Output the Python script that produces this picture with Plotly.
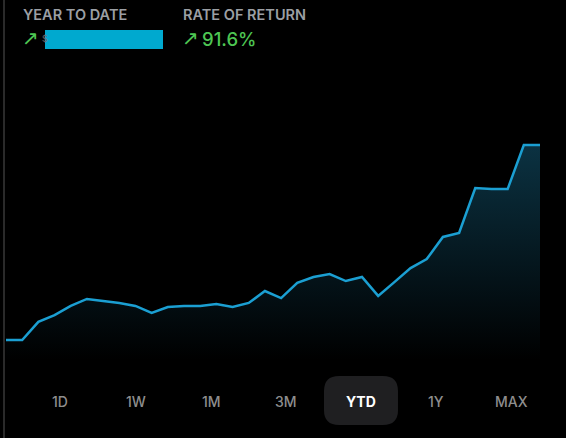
import plotly.graph_objects as go

# Data (index value)
values = [100.0, 100.0, 108.5, 111.7, 116.0, 119.3, 118.3, 117.4, 116.0, 112.7,
          115.5, 116.0, 116.0, 116.9, 115.5, 117.4, 123.0, 119.7, 126.8, 129.6,
          131.0, 127.7, 129.6, 120.7, 127.2, 133.8, 138.0, 148.4, 150.3, 171.4,
          170.9, 170.9, 191.6, 191.6]
periods = ["1D", "1W", "1M", "3M", "YTD", "1Y", "MAX"]
selected_period = "YTD"
rate_of_return = "91.6%"

W, H = 566, 438
n = len(values)
xs = list(range(n))

# plot area mapping
x0_px, x1_px = 6, 540
step = (x1_px - x0_px) / (n - 1)
xmin = -x0_px / step
xmax = (n - 1) + (W - x1_px) / step

y_bottom_px, y_top_px = 360, 60
plotH = y_bottom_px - y_top_px
per_px = 91.6 / 195.0
ymin = 100 - (y_bottom_px - 340) * per_px
ymax = 100 + (340 - y_top_px) * per_px

fig = go.Figure()
fig.add_trace(go.Scatter(
    x=xs, y=values, mode="lines",
    line=dict(color="#1b9fd2", width=2.5),
    fill="tozeroy",
    fillgradient=dict(type="vertical", start=ymin, stop=max(values),
                      colorscale=[[0, "rgba(0,0,0,1)"], [1, "rgba(11,50,66,1)"]]),
    hoverinfo="skip", showlegend=False,
))

def px(xp):
    return xp / W

def py(yp):
    return (y_bottom_px - yp) / plotH

shapes = [
    dict(type="line", xref="paper", yref="paper", x0=px(4), x1=px(4), y0=py(H), y1=py(0),
         line=dict(color="#555555", width=1)),
    dict(type="rect", xref="paper", yref="paper", x0=px(45), x1=px(163), y0=py(49), y1=py(30),
         fillcolor="#00a9cf", line=dict(width=0), layer="above"),
]
# rounded box behind selected period
bx0, bx1, by0, by1, r = 324, 398, 376, 425, 15
path = (f"M {bx0+r},{by0} L {bx1-r},{by0} Q {bx1},{by0} {bx1},{by0+r} "
        f"L {bx1},{by1-r} Q {bx1},{by1} {bx1-r},{by1} L {bx0+r},{by1} "
        f"Q {bx0},{by1} {bx0},{by1-r} L {bx0},{by0+r} Q {bx0},{by0} {bx0+r},{by0} Z")

def conv_path(p):
    out = []
    for tok in p.split(" "):
        if "," in tok:
            a, b = tok.split(",")
            out.append(f"{px(float(a)):.5f},{py(float(b)):.5f}")
        else:
            out.append(tok)
    return " ".join(out)

shapes.append(dict(type="path", xref="paper", yref="paper", path=conv_path(path),
                   fillcolor="#1f1f21", line=dict(width=0), layer="below"))

annotations = []
label_font = dict(family="Inter, Roboto, sans-serif", size=14.5, color="#9b9fa4", weight=600)
annotations.append(dict(text="YEAR TO DATE", x=px(21), y=py(14), xref="paper", yref="paper",
                        xanchor="left", yanchor="middle", showarrow=False, font=label_font))
annotations.append(dict(text="RATE OF RETURN", x=px(181), y=py(14), xref="paper", yref="paper",
                        xanchor="left", yanchor="middle", showarrow=False, font=label_font))
green = "#4ec653"
arrow_font = dict(family="Noto Sans, DejaVu Sans, sans-serif", size=20, color=green)
annotations.append(dict(text="↗", x=px(20), y=py(37), xref="paper", yref="paper",
                        xanchor="left", yanchor="middle", showarrow=False, font=arrow_font))
annotations.append(dict(text="$", x=px(40), y=py(39), xref="paper", yref="paper",
                        xanchor="left", yanchor="middle", showarrow=False,
                        font=dict(family="Inter, sans-serif", size=9, color="#6a6a6a")))
annotations.append(dict(text="↗", x=px(180), y=py(37), xref="paper", yref="paper",
                        xanchor="left", yanchor="middle", showarrow=False, font=arrow_font))
annotations.append(dict(text=rate_of_return, x=px(200), y=py(39), xref="paper", yref="paper",
                        xanchor="left", yanchor="middle", showarrow=False,
                        font=dict(family="Inter, Roboto, sans-serif", size=18.5, color=green, weight=500)))

centers = [60, 136, 211, 286, 361, 436, 511]
for lab, cx in zip(periods, centers):
    sel = lab == selected_period
    annotations.append(dict(text=lab, x=px(cx), y=py(401), xref="paper", yref="paper",
                            xanchor="center", yanchor="middle", showarrow=False,
                            font=dict(family="Inter, Roboto, sans-serif", size=14,
                                      color="#ffffff" if sel else "#8e8e8e",
                                      weight=700 if sel else 500)))

fig.update_layout(
    width=W, height=H,
    margin=dict(l=0, r=0, t=y_top_px, b=H - y_bottom_px),
    paper_bgcolor="#000000", plot_bgcolor="rgba(0,0,0,0)",
    xaxis=dict(range=[xmin, xmax], visible=False, fixedrange=True),
    yaxis=dict(range=[ymin, ymax], visible=False, fixedrange=True),
    shapes=shapes, annotations=annotations,
)

fig.write_html("out.html", config={"displayModeBar": False},
               post_script="document.body.style.margin='0';document.body.style.background='#000';")
